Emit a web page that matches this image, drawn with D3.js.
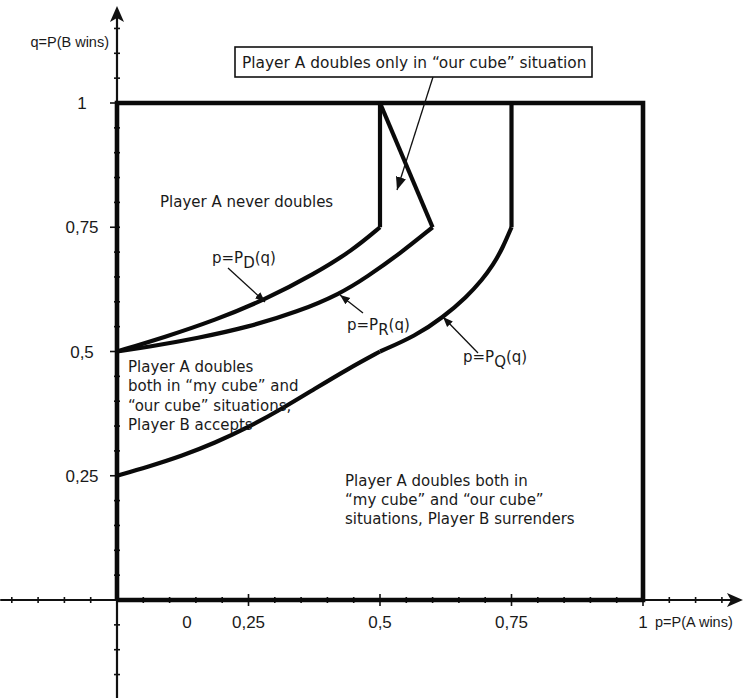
<!DOCTYPE html>
<html>
<head>
<meta charset="utf-8">
<script src="https://cdn.jsdelivr.net/npm/d3@7/dist/d3.min.js"></script>
<style>
    body { margin: 0; background: #fff; }
    text { fill: #1a1a1a; }
    .ax { font-family: "Liberation Sans", Arial, sans-serif; font-size: 17px; }
    .ax-name { font-family: "Liberation Sans", Arial, sans-serif; font-size: 14.5px; }
    .lbl { font-family: "DejaVu Sans", sans-serif; font-size: 15px; }
</style>
</head>
<body>
<svg id="vis" width="745" height="698"></svg>
<script>
'use strict';

//boundary curves as [p, q] pairs
var curveD = [[0, 0.5], [0.091, 0.529], [0.186, 0.563], [0.281, 0.604], [0.375, 0.656], [0.447, 0.703], [0.5, 0.75]];
var curveR = [[0, 0.5], [0.059, 0.509], [0.154, 0.527], [0.249, 0.549], [0.344, 0.58], [0.424, 0.616], [0.475, 0.65], [0.538, 0.697], [0.6, 0.75]];
var curveQLow = [[0, 0.25], [0.059, 0.268], [0.124, 0.29], [0.186, 0.316], [0.249, 0.347], [0.314, 0.385], [0.376, 0.425], [0.439, 0.465], [0.5, 0.5]];
var curveQHigh = [[0.5, 0.5], [0.567, 0.531], [0.62, 0.569], [0.665, 0.61], [0.694, 0.644], [0.715, 0.674], [0.733, 0.708], [0.75, 0.75]];

//straight pieces
var capD = [[0.5, 0.75], [0.5, 1]];
var capR = [[0.6, 0.75], [0.5, 1]];
var capQ = [[0.75, 0.75], [0.75, 1]];
var square = [[0, 0], [0, 1], [1, 1], [1, 0], [0, 0]];

//axes
var pExtent = [-0.222, 1.19];
var qExtent = [-0.2, 1.195];
var xTickValues = [0.133, 0.25, 0.5, 0.75, 1];
var xTickLabels = ['0', '0,25', '0,5', '0,75', '1'];
var yTickValues = [0.25, 0.5, 0.75, 1];
var yTickLabels = ['0,25', '0,5', '0,75', '1'];
var xMinor = d3.range(-4, 24).map(function (i) { return i * 0.05; });
var yMinor = d3.range(-3, 24).map(function (i) { return i * 0.05; });

var x = d3.scaleLinear().domain([0, 1]).range([117, 643]);
var y = d3.scaleLinear().domain([0, 1]).range([600, 103]);

var svg = d3.select('#vis');
svg.append('rect').attr('width', 745).attr('height', 698).attr('fill', '#fff');

var defs = svg.append('defs');
defs.append('marker')
    .attr('id', 'tip')
    .attr('viewBox', '0 -5 10 10')
    .attr('refX', 10)
    .attr('markerWidth', 10)
    .attr('markerHeight', 10)
    .attr('markerUnits', 'userSpaceOnUse')
    .attr('orient', 'auto')
    .append('path')
    .attr('d', 'M0,-4L10,0L0,4Z')
    .attr('fill', '#111');
defs.append('marker')
    .attr('id', 'tipBig')
    .attr('viewBox', '0 -5 10 10')
    .attr('refX', 10)
    .attr('markerWidth', 13)
    .attr('markerHeight', 13)
    .attr('markerUnits', 'userSpaceOnUse')
    .attr('orient', 'auto')
    .append('path')
    .attr('d', 'M0,-4L10,0L0,4Z')
    .attr('fill', '#111');

var line = d3.line().x(function (d) { return x(d[0]); }).y(function (d) { return y(d[1]); });
var smooth = d3.line().curve(d3.curveBasis).x(function (d) { return x(d[0]); }).y(function (d) { return y(d[1]); });

//thin axis lines
var axisG = svg.append('g').attr('stroke', '#111').attr('fill', 'none');
axisG.append('line')
    .attr('x1', x(pExtent[0])).attr('x2', x(pExtent[1]) - 6)
    .attr('y1', y(0)).attr('y2', y(0))
    .attr('stroke-width', 2.2);
axisG.append('line')
    .attr('x1', x(0)).attr('x2', x(0))
    .attr('y1', y(qExtent[0])).attr('y2', y(qExtent[1]) + 6)
    .attr('stroke-width', 2.2);

//minor and major ticks
function isMajor(d) { return Math.abs(d * 4 - Math.round(d * 4)) < 1e-6; }
axisG.selectAll('.xt')
    .data(xMinor)
    .enter()
    .append('line')
    .attr('x1', function (d) { return x(d); })
    .attr('x2', function (d) { return x(d); })
    .attr('y1', function (d) { return y(0) - (isMajor(d) ? 6 : 3); })
    .attr('y2', function (d) { return y(0) + (isMajor(d) ? 6 : 3); })
    .attr('stroke-width', 1.6);
axisG.selectAll('.yt')
    .data(yMinor)
    .enter()
    .append('line')
    .attr('y1', function (d) { return y(d); })
    .attr('y2', function (d) { return y(d); })
    .attr('x1', function (d) { return x(0) - (isMajor(d) ? 7 : 3); })
    .attr('x2', function (d) { return x(0) + 3; })
    .attr('stroke-width', 1.6);

//axis arrow heads
var xe = x(pExtent[1]), ye = y(qExtent[1]);
svg.append('path')
    .attr('d', 'M' + xe + ',' + y(0) + 'L' + (xe - 16) + ',' + (y(0) - 7) + 'L' + (xe - 12) + ',' + y(0) + 'L' + (xe - 16) + ',' + (y(0) + 7) + 'Z')
    .attr('fill', '#111');
svg.append('path')
    .attr('d', 'M' + x(0) + ',' + ye + 'L' + (x(0) - 7) + ',' + (ye + 16) + 'L' + x(0) + ',' + (ye + 12) + 'L' + (x(0) + 7) + ',' + (ye + 16) + 'Z')
    .attr('fill', '#111');

//thick square and boundary curves
var thick = svg.append('g').attr('fill', 'none').attr('stroke', '#0a0a0a').attr('stroke-width', 4.2)
    .attr('stroke-linejoin', 'miter');
thick.append('path').attr('d', line(square)).attr('stroke-width', 4.6);
[curveD, curveR, curveQLow, curveQHigh].forEach(function (pts) {
    thick.append('path').attr('d', smooth(pts));
});
[capD, capR, capQ].forEach(function (pts) {
    thick.append('path').attr('d', line(pts));
});

//tick labels
svg.selectAll('.xl')
    .data(xTickValues)
    .enter()
    .append('text')
    .attr('class', 'ax')
    .attr('x', function (d) { return x(d); })
    .attr('y', y(0) + 28)
    .attr('text-anchor', 'middle')
    .text(function (d, i) { return xTickLabels[i]; });
svg.selectAll('.yl')
    .data(yTickValues)
    .enter()
    .append('text')
    .attr('class', 'ax')
    .attr('x', 82)
    .attr('y', function (d) { return y(d) + 6; })
    .attr('text-anchor', 'middle')
    .text(function (d, i) { return yTickLabels[i]; });

//axis names
svg.append('text').attr('class', 'ax-name')
    .attr('x', 109).attr('y', 47).attr('text-anchor', 'end')
    .text('q=P(B wins)');
svg.append('text').attr('class', 'ax-name')
    .attr('x', 655).attr('y', y(0) + 27)
    .text('p=P(A wins)');

//region texts
function block(lines, px, by, step) {
    var t = svg.append('text').attr('class', 'lbl');
    lines.forEach(function (s, i) {
        t.append('tspan').attr('x', px).attr('y', by + i * step).text(s);
    });
    return t;
}
block(['Player A never doubles'], 160, 207, 0);
block(['Player A doubles', 'both in \u201cmy cube\u201d and', '\u201cour cube\u201d situations,', 'Player B accepts'], 128, 372, 19.3);
block(['Player A doubles both in', '\u201cmy cube\u201d and \u201cour cube\u201d', 'situations, Player B surrenders'], 345, 486, 19);

//boxed label
svg.append('rect')
    .attr('x', 235).attr('y', 47).attr('width', 357).attr('height', 30)
    .attr('fill', '#fff').attr('stroke', '#111').attr('stroke-width', 1.6);
block(['Player A doubles only in \u201cour cube\u201d situation'], 242, 68, 0).style('font-size', '15.4px');

//curve names with subscripts
function curveName(px, by, sub) {
    var t = svg.append('text').attr('class', 'lbl').attr('x', px).attr('y', by);
    t.append('tspan').text('p=P');
    t.append('tspan').attr('dy', 5).text(sub);
    t.append('tspan').attr('dy', -5).text('(q)');
}
curveName(212, 263, 'D');
curveName(347, 330, 'R');
curveName(463, 362, 'Q');

//pointer arrows
var pointers = [[433, 77, 397, 190, 'tipBig'], [228, 268, 265, 302, 'tip'], [363, 313, 340, 295, 'tip'], [478, 353, 443, 317, 'tip']];
svg.selectAll('.ptr')
    .data(pointers)
    .enter()
    .append('line')
    .attr('x1', function (d) { return d[0]; })
    .attr('y1', function (d) { return d[1]; })
    .attr('x2', function (d) { return d[2]; })
    .attr('y2', function (d) { return d[3]; })
    .attr('stroke', '#111')
    .attr('stroke-width', 1.3)
    .attr('marker-end', function (d) { return 'url(#' + d[4] + ')'; });
</script>
</body>
</html>
